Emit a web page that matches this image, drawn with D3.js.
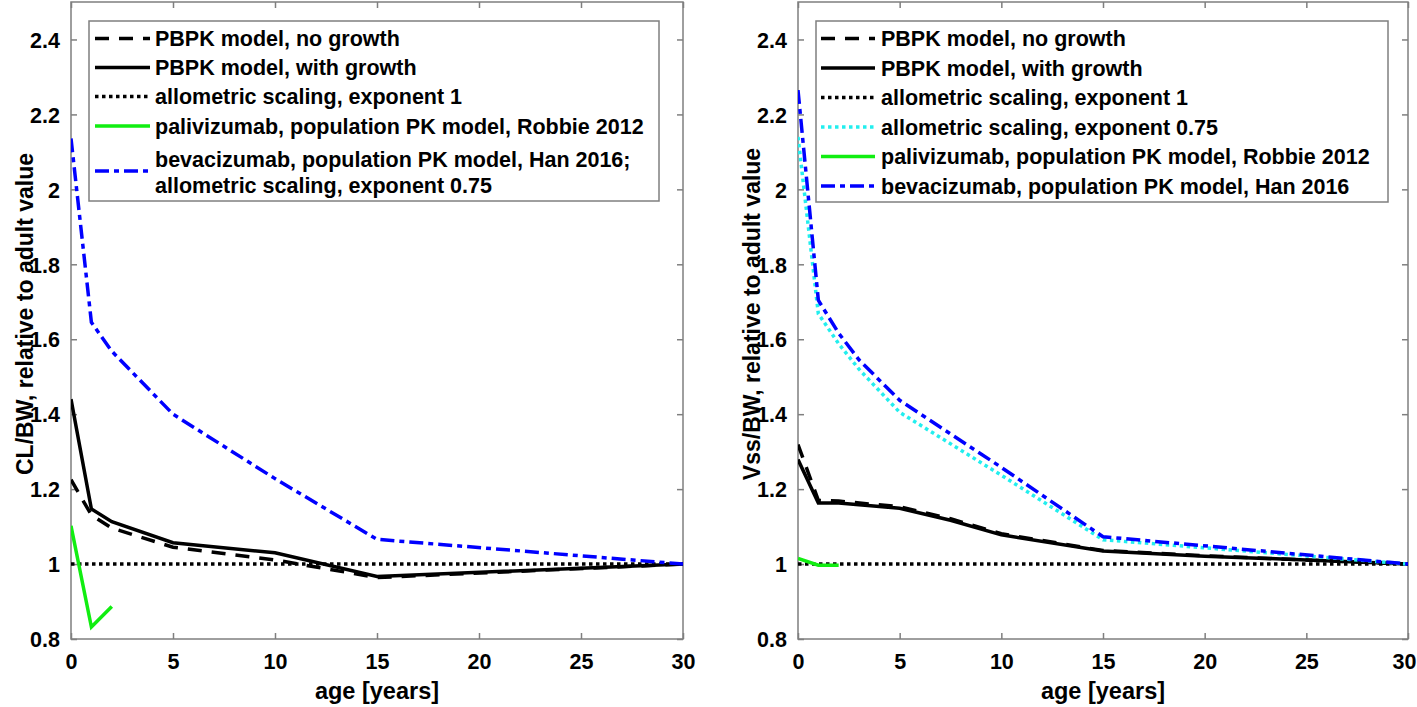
<!DOCTYPE html>
<html>
<head>
<meta charset="utf-8">
<script src="https://cdn.jsdelivr.net/npm/d3@7"></script>
<style>
  html, body { margin: 0; padding: 0; background: #fff; }
  svg { display: block; }
  text { font-family: "Liberation Sans", Arial, Helvetica, sans-serif; font-weight: bold; fill: #000; }
</style>
</head>
<body>
<svg id="chart" width="1417" height="707"></svg>
<script>
// ---------------- DATA ----------------
const xTicks = [0, 5, 10, 15, 20, 25, 30];
const yTicks = [0.8, 1.0, 1.2, 1.4, 1.6, 1.8, 2.0, 2.2, 2.4];

// Left panel: CL/BW
const clAgesPBPK = [0, 1, 2, 5, 10, 15, 30];
const clNoGrowth = [1.225, 1.131, 1.096, 1.045, 1.011, 0.964, 1.0];
const clWithGrowth = [1.44, 1.147, 1.113, 1.057, 1.030, 0.967, 1.0];
const clAgesAllo1 = [0, 30];
const clAllo1 = [1.0, 1.0];
const clAgesPali = [0, 1, 2];
const clPali = [1.102, 0.832, 0.887];
const clAgesBev = [0, 1, 2, 5, 10, 15, 30];
const clBev = [2.136, 1.645, 1.568, 1.40, 1.228, 1.066, 1.0];

// Right panel: Vss/BW
const vssAgesPBPK = [0, 1, 2, 5, 7.5, 10, 15, 20, 25, 30];
const vssNoGrowth = [1.319, 1.170, 1.168, 1.153, 1.121, 1.081, 1.036, 1.022, 1.011, 1.0];
const vssWithGrowth = [1.279, 1.163, 1.163, 1.149, 1.117, 1.078, 1.035, 1.021, 1.011, 1.0];
const vssAgesAllo1 = [0, 30];
const vssAllo1 = [1.0, 1.0];
const vssAgesAllo075 = [0, 1, 2, 3, 5, 10, 15, 30];
const vssAllo075 = [2.14, 1.668, 1.588, 1.52, 1.405, 1.237, 1.065, 1.0];
const vssAgesPali = [0, 1, 2];
const vssPali = [1.015, 0.997, 0.997];
const vssAgesBev = [0, 1, 2, 3, 5, 10, 15, 30];
const vssBev = [2.265, 1.704, 1.616, 1.545, 1.437, 1.258, 1.073, 1.0];

const leftLabels = [
  ["PBPK model, no growth"],
  ["PBPK model, with growth"],
  ["allometric scaling, exponent 1"],
  ["palivizumab, population PK model, Robbie 2012"],
  ["bevacizumab, population PK model, Han 2016;", "allometric scaling, exponent 0.75"]
];
const rightLabels = [
  ["PBPK model, no growth"],
  ["PBPK model, with growth"],
  ["allometric scaling, exponent 1"],
  ["allometric scaling, exponent 0.75"],
  ["palivizumab, population PK model, Robbie 2012"],
  ["bevacizumab, population PK model, Han 2016"]
];

// ---------------- STYLES ----------------
const STY = {
  dashed:  { color: "#000000", dash: "14,10", width: 3.5 },
  solid:   { color: "#000000", dash: null, width: 3.5 },
  dotted:  { color: "#000000", dash: "3.5,3.5", width: 3.5 },
  cyanDot: { color: "#22eeee", dash: "3.5,3.5", width: 3.5 },
  green:   { color: "#11ee11", dash: null, width: 3.5 },
  blue:    { color: "#0000ff", dash: "14,5,5,5", width: 3.5 }
};

const svg = d3.select("#chart");
const AXIS_COLOR = "#7f7f7f";
const W = 1417;

function panel(cfg) {
  const x = d3.scaleLinear().domain([0, 30]).range([cfg.x0, cfg.x1]);
  const y = d3.scaleLinear().domain([0.8, 2.5]).range([639, 2]);
  const g = svg.append("g");
  const clipId = "clip" + cfg.id;
  svg.append("defs").append("clipPath").attr("id", clipId)
    .append("rect").attr("x", cfg.x0).attr("y", 2).attr("width", cfg.x1 - cfg.x0).attr("height", 637);

  g.append("rect").attr("x", cfg.x0).attr("y", 2).attr("width", cfg.x1 - cfg.x0).attr("height", 637)
    .attr("fill", "none").attr("stroke", AXIS_COLOR).attr("stroke-width", 1.5);

  const fmt = d => String(+d.toFixed(1));
  const xb = g.append("g").attr("transform", `translate(0,639)`)
    .call(d3.axisBottom(x).tickValues(xTicks).tickSize(-6).tickPadding(15).tickFormat(fmt));
  const xt = g.append("g").attr("transform", `translate(0,2)`)
    .call(d3.axisTop(x).tickValues(xTicks).tickSize(-6).tickFormat(""));
  const yl = g.append("g").attr("transform", `translate(${cfg.x0},0)`)
    .call(d3.axisLeft(y).tickValues(yTicks).tickSize(-6).tickPadding(11).tickFormat(fmt));
  const yr = g.append("g").attr("transform", `translate(${cfg.x1},0)`)
    .call(d3.axisRight(y).tickValues(yTicks).tickSize(-6).tickFormat(""));
  [xb, xt, yl, yr].forEach(a => {
    a.select(".domain").remove();
    a.selectAll(".tick line").attr("stroke", AXIS_COLOR).attr("stroke-width", 1.5);
  });
  xb.selectAll(".tick text").attr("font-size", 21.5).attr("font-family", "Liberation Sans, Arial, sans-serif")
    .attr("font-weight", "bold").attr("fill", "#000");
  xb.selectAll(".tick text").each(function (d) {
    const bb = this.getBBox();
    const right = x(d) + bb.x + bb.width;
    if (right > W - 1) d3.select(this).attr("dx", (W - 1 - right));
  });
  yl.selectAll(".tick text").attr("font-size", 21.5).attr("font-family", "Liberation Sans, Arial, sans-serif")
    .attr("font-weight", "bold").attr("fill", "#000").attr("dy", "0.36em");

  g.append("text").attr("x", (cfg.x0 + cfg.x1) / 2).attr("y", 699).attr("text-anchor", "middle")
    .attr("font-size", 23.5).text("age [years]");
  g.append("text").attr("transform", `translate(${cfg.x0 - 38},314) rotate(-90)`)
    .attr("text-anchor", "middle").attr("font-size", 23).text(cfg.ylabel);

  const line = d3.line().x(d => x(d[0])).y(d => y(d[1]));
  const lines = g.append("g").attr("clip-path", `url(#${clipId})`);
  cfg.series.forEach(s => {
    const pts = s.ages.map((a, i) => [a, s.vals[i]]);
    lines.append("path").datum(pts).attr("d", line)
      .attr("fill", "none").attr("stroke", s.st.color).attr("stroke-width", s.st.width)
      .attr("stroke-dasharray", s.st.dash).attr("stroke-linejoin", "miter");
  });

  const L = cfg.legend;
  const lg = g.append("g");
  lg.append("rect").attr("x", L.x).attr("y", L.y).attr("width", L.w).attr("height", L.h)
    .attr("fill", "#fff").attr("stroke", AXIS_COLOR).attr("stroke-width", 1.5);
  L.rows.forEach((r, i) => {
    const st = cfg.series[i].st;
    lg.append("line").attr("x1", L.sx0).attr("x2", L.sx1).attr("y1", r.sy).attr("y2", r.sy)
      .attr("stroke", st.color).attr("stroke-width", st.width).attr("stroke-dasharray", st.dash);
    r.ty.forEach((ty, j) => {
      lg.append("text").attr("x", L.tx).attr("y", ty + 7.5).attr("font-size", 21.5).text(cfg.labels[i][j]);
    });
  });
}

panel({
  id: "L", x0: 71, x1: 683, ylabel: "CL/BW, relative to adult value",
  labels: leftLabels,
  series: [
    { ages: clAgesPBPK, vals: clNoGrowth, st: STY.dashed },
    { ages: clAgesPBPK, vals: clWithGrowth, st: STY.solid },
    { ages: clAgesAllo1, vals: clAllo1, st: STY.dotted },
    { ages: clAgesPali, vals: clPali, st: STY.green },
    { ages: clAgesBev, vals: clBev, st: STY.blue }
  ],
  legend: {
    x: 89, y: 21, w: 570, h: 180, sx0: 95, sx1: 150, tx: 155,
    rows: [ { sy: 38.5, ty: [38.5] }, { sy: 67.5, ty: [67.5] }, { sy: 96.5, ty: [96.5] },
            { sy: 126, ty: [126] }, { sy: 171, ty: [159, 185.5] } ]
  }
});

panel({
  id: "R", x0: 798, x1: 1408, ylabel: "Vss/BW, relative to adult value",
  labels: rightLabels,
  series: [
    { ages: vssAgesPBPK, vals: vssNoGrowth, st: STY.dashed },
    { ages: vssAgesPBPK, vals: vssWithGrowth, st: STY.solid },
    { ages: vssAgesAllo1, vals: vssAllo1, st: STY.dotted },
    { ages: vssAgesAllo075, vals: vssAllo075, st: STY.cyanDot },
    { ages: vssAgesPali, vals: vssPali, st: STY.green },
    { ages: vssAgesBev, vals: vssBev, st: STY.blue }
  ],
  legend: {
    x: 816, y: 21, w: 572, h: 181, sx0: 821, sx1: 875, tx: 881,
    rows: [ { sy: 38.5, ty: [38.5] }, { sy: 68, ty: [68] }, { sy: 97.5, ty: [97.5] },
            { sy: 127, ty: [127] }, { sy: 156.5, ty: [156.5] }, { sy: 186, ty: [186] } ]
  }
});
</script>
</body>
</html>
